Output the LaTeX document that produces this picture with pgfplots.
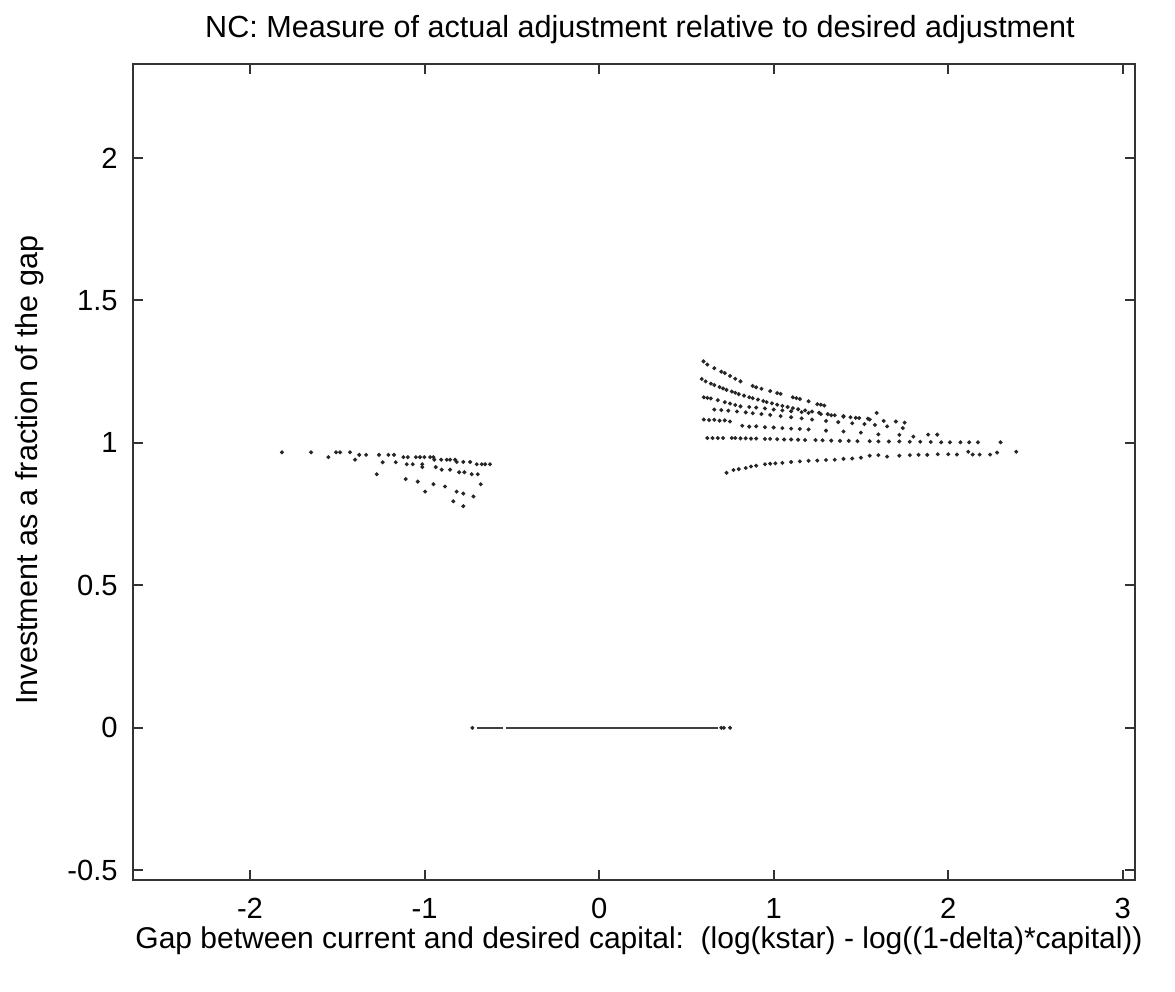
\documentclass[border=0pt]{standalone}
\usepackage{pgfplots}
\pgfplotsset{compat=1.18}
\usepackage{fontspec}
\setmainfont{Liberation Sans}
\begin{document}
\begin{tikzpicture}[x=1pt,y=1pt]
\useasboundingbox (-47.9,-40.3) rectangle (375.1,316.8);
\begin{axis}[
  at={(0,0)}, anchor=south west,
  scale only axis, width=360.7pt, height=293.8pt,
  xmin=-2.67, xmax=3.07, ymin=-0.534, ymax=2.33,
  xtick={-2,-1,0,1,2,3},
  ytick={-0.5,0,0.5,1,1.5,2},
  yticklabels={-0.5,0,0.5,1,1.5,2},
  xticklabels={-2,-1,0,1,2,3},
  tick align=inside, tick pos=both,
  major tick length=3.6pt,
  axis line style={line width=0.7pt, black!80},
  every tick/.style={line width=0.7pt, black!80},
  ticklabel style={font=\fontsize{10.5}{12}\selectfont},
  xticklabel style={yshift=-3pt},
  yticklabel style={xshift=-2pt},
  title={NC: Measure of actual adjustment relative to desired adjustment},
  title style={at={(axis description cs:0.506,1.022)}, anchor=center, font=\fontsize{11}{13}\selectfont},
  xlabel={Gap between current and desired capital:\ \ (log(kstar) - log((1-delta)*capital))},
  xlabel style={at={(axis description cs:0.505,-0.074)}, anchor=center, font=\fontsize{10.8}{13}\selectfont},
  ylabel={Investment as a fraction of the gap},
  ylabel style={at={(axis description cs:-0.1028,0.502)}, anchor=center, font=\fontsize{11}{13}\selectfont},
  dot/.style={only marks, mark=*, mark size=0.5pt, black!85, mark options={solid, fill=black!85, draw=black!85}},
]
% left cluster
\addplot[dot] coordinates {
(-1.817,0.967)(-1.650,0.967)(-1.507,0.967)(-1.484,0.967)(-1.427,0.967)
(-1.551,0.950)(-1.398,0.941)(-1.374,0.958)(-1.335,0.958)(-1.261,0.958)
(-1.207,0.958)(-1.175,0.958)(-1.240,0.932)(-1.165,0.932)(-1.121,0.950)
(-1.096,0.950)(-1.050,0.950)(-1.026,0.950)(-1.001,0.950)(-0.968,0.950)
(-0.949,0.950)(-0.944,0.941)(-0.905,0.941)(-0.873,0.941)(-0.854,0.941)
(-0.825,0.941)(-0.816,0.933)(-0.778,0.933)(-0.739,0.933)(-0.701,0.925)
(-0.672,0.925)(-0.653,0.925)(-0.625,0.925)
(-1.102,0.925)(-1.068,0.925)(-1.013,0.925)(-1.013,0.915)(-0.936,0.915)
(-0.902,0.906)(-0.854,0.906)(-0.802,0.897)(-0.772,0.897)(-0.730,0.890)(-0.695,0.890)
(-1.274,0.890)(-1.108,0.873)(-1.039,0.864)(-0.949,0.855)(-0.883,0.847)
(-0.816,0.829)(-0.778,0.822)(-0.720,0.812)(-0.678,0.855)(-0.997,0.829)
(-0.835,0.795)(-0.778,0.778)
};
% right cluster, curve A
\addplot[dot] coordinates {
(0.598,1.286)(0.62,1.275)(0.66,1.262)(0.70,1.250)(0.72,1.245)(0.75,1.235)
(0.78,1.225)(0.81,1.216)(0.88,1.200)(0.90,1.195)(0.93,1.190)(0.98,1.182)
(1.02,1.175)(1.04,1.172)(1.11,1.160)(1.13,1.157)(1.15,1.154)(1.20,1.146)
(1.25,1.136)(1.27,1.134)(1.29,1.131)
};
% curve B
\addplot[dot] coordinates {
(0.588,1.224)(0.61,1.216)(0.64,1.208)(0.66,1.203)(0.69,1.196)(0.71,1.191)
(0.73,1.186)(0.76,1.180)(0.78,1.176)(0.80,1.171)(0.83,1.166)(0.86,1.160)
(0.88,1.157)(0.91,1.152)(0.94,1.147)(0.96,1.143)(0.99,1.139)(1.02,1.134)
(1.05,1.130)(1.08,1.126)(1.11,1.122)(1.14,1.118)(1.18,1.114)(1.22,1.110)
(1.26,1.106)(1.31,1.101)(1.35,1.097)(1.40,1.094)(1.44,1.090)(1.49,1.087)
(1.54,1.085)(1.59,1.105)
};
% curve C
\addplot[dot] coordinates {
(0.60,1.160)(0.62,1.158)(0.64,1.156)(0.68,1.150)(0.72,1.143)(0.75,1.138)
(0.78,1.133)(0.81,1.128)(0.86,1.126)(0.90,1.124)(0.95,1.121)(1.00,1.117)
(1.05,1.114)(1.10,1.111)(1.16,1.108)(1.20,1.105)(1.27,1.101)(1.33,1.097)
(1.40,1.092)(1.47,1.088)(1.55,1.082)(1.63,1.077)(1.70,1.075)(1.75,1.071)
};
% curve D
\addplot[dot] coordinates {
(0.66,1.117)(0.70,1.115)(0.74,1.113)(0.79,1.110)(0.84,1.107)(0.88,1.104)
(0.93,1.101)(0.98,1.098)(1.04,1.094)(1.10,1.090)(1.16,1.086)(1.22,1.082)
(1.30,1.077)(1.37,1.073)(1.45,1.069)(1.52,1.066)(1.58,1.063)(1.65,1.058)
(1.74,1.052)
};
% curve E
\addplot[dot] coordinates {
(0.60,1.082)(0.63,1.080)(0.66,1.081)(0.69,1.078)(0.72,1.079)(0.75,1.075)
(0.82,1.060)(0.86,1.057)(0.90,1.058)(0.95,1.055)(1.00,1.054)(1.05,1.052)
(1.10,1.050)(1.15,1.049)(1.20,1.047)(1.30,1.043)(1.40,1.040)(1.50,1.036)
(1.60,1.030)(1.72,1.028)(1.80,1.022)(1.885,1.029)(1.937,1.029)
};
% curve F
\addplot[dot] coordinates {
(0.62,1.017)(0.65,1.017)(0.68,1.017)(0.71,1.017)(0.76,1.017)(0.78,1.017)
(0.81,1.016)(0.84,1.016)(0.87,1.015)(0.90,1.015)(0.95,1.014)(0.98,1.014)
(1.02,1.013)(1.06,1.012)(1.10,1.012)(1.14,1.011)(1.18,1.010)(1.24,1.010)
(1.28,1.009)(1.33,1.008)(1.38,1.007)(1.43,1.007)(1.48,1.006)(1.55,1.006)
(1.60,1.005)(1.66,1.005)(1.72,1.005)(1.78,1.004)(1.84,1.004)(1.90,1.003)
(1.96,1.002)(2.01,1.002)(2.07,1.002)(2.12,1.002)(2.17,1.002)(2.30,1.002)
};
% curve G
\addplot[dot] coordinates {
(0.73,0.895)(0.77,0.905)(0.80,0.908)(0.84,0.912)(0.87,0.917)(0.90,0.920)
(0.95,0.925)(0.98,0.927)(1.01,0.928)(1.05,0.930)(1.10,0.933)(1.15,0.935)
(1.20,0.937)(1.25,0.938)(1.30,0.940)(1.35,0.941)(1.40,0.944)(1.45,0.945)
(1.50,0.948)(1.55,0.955)(1.60,0.957)(1.65,0.952)(1.72,0.955)(1.78,0.957)
(1.83,0.958)(1.88,0.958)(1.94,0.960)(2.00,0.960)(2.05,0.959)(2.115,0.969)
(2.14,0.959)(2.18,0.959)(2.24,0.959)(2.28,0.966)(2.39,0.969)
};
% zero line
\addplot[no marks, sharp plot, line width=0.9pt, black!75] coordinates {(-0.70,0)(-0.55,0)};
\addplot[no marks, sharp plot, line width=0.9pt, black!75] coordinates {(-0.535,0)(0.682,0)};
\addplot[dot] coordinates {(-0.726,0)(0.70,0)(0.715,0)(0.75,0)};
\end{axis}
\end{tikzpicture}
\end{document}
